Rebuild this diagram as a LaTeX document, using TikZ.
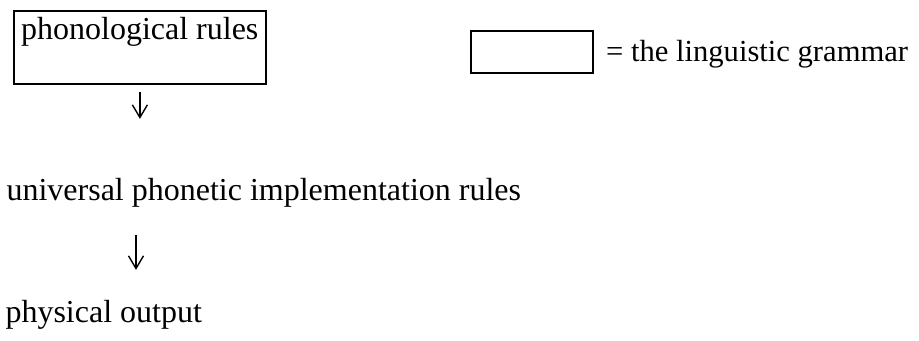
\documentclass[tikz,border=0pt]{standalone}
\usepackage{fontspec}
\setmainfont{Liberation Serif}
\usepackage{tikz}
\usetikzlibrary{positioning,calc,arrows.meta}

\tikzset{
	txt/.style={anchor=base west, inner sep=0pt, font=\fontsize{11.5}{13.5}\selectfont},
	grambox/.style={draw=black, line width=0.7pt, inner sep=0pt},
	down/.style={-{Straight Barb[length=1.6mm,width=1.9mm]}, line width=0.5pt}
}

\begin{document}
\begin{tikzpicture}
		\useasboundingbox (0,0) rectangle (11.61,-4.307);
		\node[grambox, anchor=north west, minimum width=3.19cm, minimum height=0.926cm] (phon) at (0.16,-0.126) {};
		\node[txt, anchor=base west, shift={(0.1,-0.37)}] (phont) at (phon.north west) {phonological rules};
		
		\node[grambox, anchor=north west, minimum width=1.54cm, minimum height=0.53cm] (key) at (5.936,-0.379) {};
		\node[txt, anchor=base west, font=\fontsize{11}{13}\selectfont] (keyt) at ($(key.east)+(0.15,-0.115)$) {= the linguistic grammar};
		
		\node[txt] (upir) at (0.076,-2.539) {universal phonetic implementation rules};
		\node[txt] (out) at (0.063,-4.08) {physical output};
		
		\draw[down] ($(phon.south)+(0,-0.085)$) -- ++(0,-0.34);
		\draw[down] ($(upir.base west)+(1.642,-0.43)$) -- ++(0,-0.44);
	\end{tikzpicture}
\end{document}
